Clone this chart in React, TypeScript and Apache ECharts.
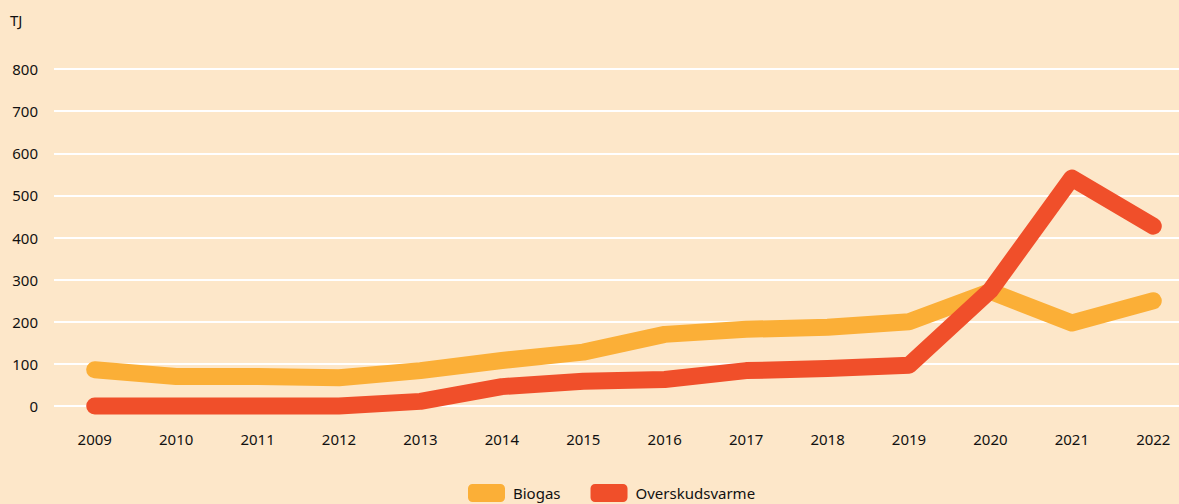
import React, { useEffect, useRef } from "react";
import * as echarts from "echarts";

const years = ["2009","2010","2011","2012","2013","2014","2015","2016","2017","2018","2019","2020","2021","2022"];
const biogas = [86, 70, 70, 67, 84, 108, 128, 170, 182, 187, 200, 272, 197, 250];
const overskudsvarme = [0, 0, 0, 0, 11, 46, 59, 63, 84, 89, 97, 275, 541, 427];
const seriesNames = ["Biogas", "Overskudsvarme"];
const colors = ["#fbaf37", "#f04f2a"];

export default function App() {
  const ref = useRef<HTMLDivElement>(null);
  useEffect(() => {
    const chart = echarts.init(ref.current!, null, { renderer: "svg" });
    const font = "'Noto Sans', 'Open Sans', sans-serif";
    chart.setOption({
      animation: false,
      backgroundColor: "#fde7c9",
      textStyle: { fontFamily: font },
      graphic: [
        { type: "text", left: 10, top: 12, style: { text: "TJ", font: `15px ${font}`, fill: "#111111" } },
      ],
      legend: {
        left: 463,
        top: 479,
        itemWidth: 37,
        itemHeight: 18,
        itemGap: 30,
        icon: "roundRect",
        textStyle: { fontSize: 15, color: "#111111", fontFamily: font, padding: [0, 0, 0, 3] },
        data: seriesNames,
      },
      grid: { left: 54, width: 1140, top: 69, height: 337, containLabel: false },
      xAxis: {
        type: "category",
        data: years,
        boundaryGap: true,
        axisLine: { show: false },
        axisTick: { show: false },
        axisLabel: { color: "#111111", fontSize: 15, margin: 25, fontFamily: font },
      },
      yAxis: {
        type: "value",
        min: 0,
        max: 800,
        interval: 100,
        axisLine: { show: false },
        axisTick: { show: false },
        axisLabel: { color: "#111111", fontSize: 15, margin: 16, fontFamily: font },
        splitLine: { lineStyle: { color: "#ffffff", width: 2 } },
      },
      series: [
        {
          name: seriesNames[0],
          type: "line",
          data: biogas,
          symbol: "none",
          color: colors[0],
          lineStyle: { width: 17, color: colors[0], cap: "round", join: "round" },
          clip: false,
        },
        {
          name: seriesNames[1],
          type: "line",
          data: overskudsvarme,
          symbol: "none",
          color: colors[1],
          lineStyle: { width: 17, color: colors[1], cap: "round", join: "round" },
          clip: false,
        },
      ],
    });
    return () => chart.dispose();
  }, []);
  return (
    <div style={{ position: "fixed", left: 0, top: 0, width: 1179, height: 504, overflow: "hidden" }}>
      <div ref={ref} style={{ width: 1210, height: 504 }} />
    </div>
  );
}
